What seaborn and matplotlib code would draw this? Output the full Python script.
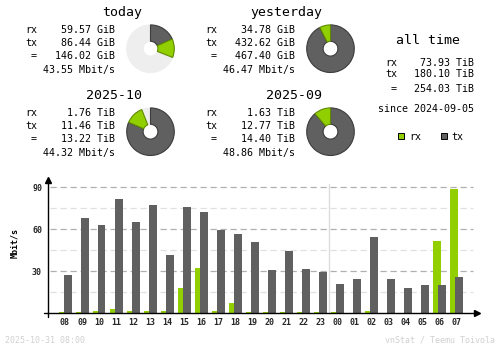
import numpy as np
import pandas as pd
import matplotlib
matplotlib.use("Agg")
import matplotlib.pyplot as plt
from matplotlib.patches import Rectangle
import seaborn as sns

# ---- hourly traffic (Mbit/s), last 24 hours ----
hours = ["08", "09", "10", "11", "12", "13", "14", "15", "16", "17", "18", "19",
         "20", "21", "22", "23", "00", "01", "02", "03", "04", "05", "06", "07"]
rx_mbit = [0.9, 0.9, 1.6, 3.1, 1.6, 1.6, 1.6, 18.1, 32.4, 1.6, 7.4, 0.9,
           0.9, 0.9, 0.9, 0.9, 0.9, 0.0, 1.9, 0.0, 0.0, 0.0, 51.9, 89.0]
tx_mbit = [27.6, 68.3, 63.3, 81.9, 65.5, 77.6, 41.9, 75.9, 72.4, 59.5, 56.7, 50.9,
           30.9, 44.5, 31.7, 29.8, 21.2, 24.8, 54.8, 24.8, 18.3, 20.5, 20.5, 26.2]

# ---- period summaries ----
period_titles = ["today", "yesterday", "2025-10", "2025-09"]
period_unit = ["GiB", "GiB", "TiB", "TiB"]
period_rx = [59.57, 34.78, 1.76, 1.63]
period_tx = [86.44, 432.62, 11.46, 12.77]
period_total = [146.02, 467.40, 13.22, 14.40]
period_rate = [43.55, 46.47, 44.32, 48.86]
period_elapsed = [0.31, 1.0, 0.94, 1.0]

alltime_rx = 73.93
alltime_tx = 180.10
alltime_total = 254.03
since_date = "2024-09-05"
stamp = "2025-10-31 08:00"
credit = "vnStat / Teemu Toivola"

RX = "#92cf00"
RX_EDGE = "#5f8a00"
TX = "#606060"
TX_EDGE = "#3c3c3c"
REST = "#eeeeee"

W, H = 500, 348

sns.set_style("white")
plt.rcParams["font.family"] = ["DejaVu Sans Mono", "DejaVu Sans"]

fig = plt.figure(figsize=(W / 100, H / 100), dpi=100)
fig.patch.set_facecolor("white")


def fx(x):
    return x / W


def fy(y):
    return 1 - y / H


def txt(x, y, s, ha="left", size=7.2, color="black", **kw):
    return fig.text(fx(x), fy(y), s, ha=ha, va="baseline", fontsize=size, color=color, **kw)


# ---- summary blocks with donuts ----
offsets = [(0, 0), (180, 0), (0, 83), (180, 83)]
for i, (dx, dy) in enumerate(offsets):
    u = period_unit[i]
    txt(142 + dx, 16 + dy, period_titles[i], ha="right", size=9.5)
    txt(37 + dx, 33 + dy, "rx", ha="right")
    txt(37 + dx, 45.7 + dy, "tx", ha="right")
    txt(37 + dx, 59 + dy, "=", ha="right")
    txt(115 + dx, 33 + dy, f"{period_rx[i]:.2f} {u}", ha="right")
    txt(115 + dx, 45.7 + dy, f"{period_tx[i]:.2f} {u}", ha="right")
    txt(115 + dx, 59 + dy, f"{period_total[i]:.2f} {u}", ha="right")
    txt(115 + dx, 73 + dy, f"{period_rate[i]:.2f} Mbit/s", ha="right")

    cx, cy, r = 150.5 + dx, 48.7 + dy, 24.5
    pax = fig.add_axes([fx(cx - r), fy(cy + r), 2 * r / W, 2 * r / H])
    tot = period_rx[i] + period_tx[i]
    fill = period_elapsed[i]
    vals = [period_tx[i] / tot * fill, period_rx[i] / tot * fill, 1 - fill]
    wedges, _ = pax.pie(vals, colors=[TX, RX, REST], startangle=90, counterclock=False,
                        radius=1, normalize=False,
                        wedgeprops=dict(width=0.69, linewidth=0.8))
    wedges[0].set_edgecolor(TX_EDGE)
    wedges[1].set_edgecolor(RX_EDGE)
    wedges[2].set_edgecolor(REST)
    wedges[2].set_zorder(0)
    pax.set_xlim(-1.03, 1.03)
    pax.set_ylim(-1.03, 1.03)
    pax.set_aspect("equal")
    pax.axis("off")

# ---- all time block ----
txt(460, 44.3, "all time", ha="right", size=9.5)
txt(397, 65.7, "rx", ha="right")
txt(397, 77.3, "tx", ha="right")
txt(397, 91.7, "=", ha="right")
txt(474, 65.7, f"{alltime_rx:.2f} TiB", ha="right")
txt(474, 77.3, f"{alltime_tx:.2f} TiB", ha="right")
txt(474, 91.7, f"{alltime_total:.2f} TiB", ha="right")
txt(474, 111.7, f"since {since_date}", ha="right")

for sx, col, lab in [(398.3, RX, "rx"), (440.7, TX, "tx")]:
    fig.patches.append(Rectangle((fx(sx), fy(139.3)), 6 / W, 6 / H, transform=fig.transFigure,
                                 facecolor=col, edgecolor="black", linewidth=0.7))
    txt(sx + 11, 140, lab)

# ---- hourly bar chart ----
ax = fig.add_axes([fx(48), fy(313.33), 429 / W, 133.33 / H])
df = pd.DataFrame({"hour": hours, "rx": rx_mbit, "tx": tx_mbit})
df["pos"] = np.arange(len(df), dtype=float)
bar_w = 8 / 17
shift = 2.5 / 17

for lvl in [15, 45, 75]:
    ax.axhline(lvl, xmin=0.005, xmax=0.99, color="#e0e0e0", lw=0.9,
               linestyle=(0, (5, 3)), zorder=0)
for lvl in [30, 60, 90]:
    ax.axhline(lvl, xmin=0.005, xmax=0.99, color="#b0b0b0", lw=0.9,
               linestyle=(0, (5, 3)), zorder=0)
ax.axvline(15.5, ymin=0, ymax=0.97, color="#dcdcdc", lw=1.0, zorder=0)

sns.barplot(x=df["pos"] - shift, y=df["rx"], native_scale=True, width=bar_w,
            color=RX, saturation=1, linewidth=0, errorbar=None, ax=ax, zorder=2)
sns.barplot(x=df["pos"] + shift, y=df["tx"], native_scale=True, width=bar_w,
            color=TX, saturation=1, linewidth=0, errorbar=None, ax=ax, zorder=3)

ax.set_xlim(-1, 429 / 17 - 1)
ax.set_ylim(0, 133.33 / 1.4)
ax.set_xticks(df["pos"], df["hour"])
ax.set_yticks([30, 60, 90], ["30", "60", "90"])
ax.tick_params(axis="x", length=0, pad=3.2, labelsize=6)
ax.tick_params(axis="y", length=0, pad=4.3, labelsize=6)
for lab in ax.get_xticklabels() + ax.get_yticklabels():
    lab.set_fontweight("bold")
ax.set_xlabel("")
ax.set_ylabel("")
for s in ax.spines.values():
    s.set_visible(False)
ax.set_facecolor("none")

# axis lines with arrow heads
ax.plot([0, 0], [-4 / 133.33, 1.0], color="black", lw=1.0, transform=ax.transAxes,
        clip_on=False, zorder=5)
ax.plot([-4 / 429, 1.0], [0, 0], color="black", lw=1.0, transform=ax.transAxes,
        clip_on=False, zorder=5)
ax.plot([0], [1.0], marker="^", ms=4, color="black", transform=ax.transAxes,
        clip_on=False, zorder=5)
ax.plot([1.0], [0], marker=">", ms=4, color="black", transform=ax.transAxes,
        clip_on=False, zorder=5)

fig.text(fx(15), fy(243), "Mbit/s", rotation=90, ha="center", va="center",
         fontsize=6, fontweight="bold", color="black")

# ---- footer ----
txt(5, 342.7, stamp, size=6, color="#d0d0d0")
txt(495, 342.7, credit, ha="right", size=6, color="#d0d0d0")

fig.savefig("out.png", dpi=100, facecolor="white")
